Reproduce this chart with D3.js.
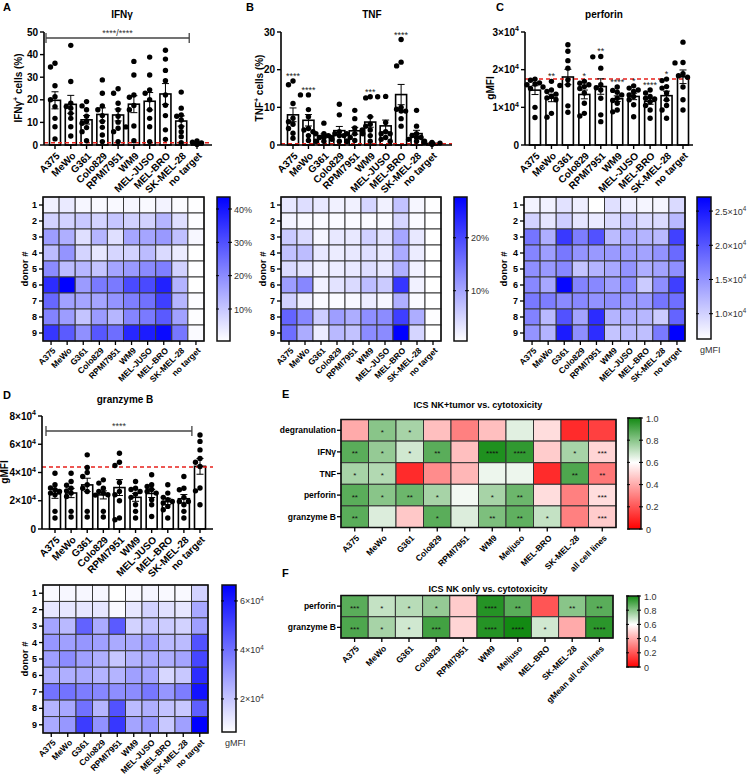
<!DOCTYPE html>
<html><head><meta charset="utf-8">
<script src="https://cdn.jsdelivr.net/npm/d3@7"></script>
<style>body{margin:0;background:#fff} text{font-family:'Liberation Sans',Arial,Helvetica,sans-serif}</style>
</head><body>
<svg id="c" width="748" height="775"></svg>
<script>
// ---------------- DATA ----------------
const cellLines = ["A375","MeWo","G361","Colo829","RPMI7951","WM9","MEL-JUSO","MEL-BRO","SK-MEL-28","no target"];
const donors = ["1","2","3","4","5","6","7","8","9"];

// values per cell line, donors 1..9
const ifngValues = [
  [2.7, 8.1, 17, 11.8, 20, 36.2, 26.2, 21.4, 34.5],
  [4, 8.1, 14, 18.5, 11.8, 44.1, 16.3, 17, 28.1],
  [1.9, 9.6, 5.9, 7.7, 12.7, 17.3, 15.6, 10.4, 19.2],
  [1.5, 7.8, 13, 4.4, 10.4, 22.9, 15.6, 17.3, 28.8],
  [1.5, 10.1, 5.9, 7.4, 15.6, 22.9, 18.5, 12.7, 24.9],
  [1.9, 8.4, 15.6, 8.0, 17.5, 31, 22.1, 21.1, 37],
  [1.5, 8.1, 15.6, 11.8, 20, 31, 24.4, 22.9, 38.9],
  [2.5, 13, 17.6, 6.7, 22.1, 38, 33, 28.4, 41.9],
  [1, 5.9, 11.1, 3.7, 8.1, 13.3, 12.7, 16.3, 23.4],
  [0.5, 0.8, 1.8, 0.4, 0.6, 0.3, 0.9, 0.7, 1.2]
];
const tnfValues = [
  [3.1, 1.8, 6.2, 7.1, 4.4, 11, 5.5, 17, 16],
  [4, 1.2, 4.4, 7.5, 3.5, 13.3, 2.5, 13.3, 9.4],
  [3, 1, 1.5, 3, 2, 2, 1, 5.8, 2.5],
  [2, 1, 3, 2.5, 2.5, 3.5, 1, 10.8, 8],
  [2, 1, 3, 3, 3, 4.5, 1.2, 9.2, 7],
  [5, 1, 5.5, 4, 4, 7.5, 2.5, 12.5, 12.8],
  [2, 1, 3.5, 3, 3, 6, 1.5, 12.8, 12.9],
  [7, 5, 10, 9.5, 9, 22, 9, 21, 28],
  [1.5, 1, 3, 2.5, 2, 2, 1, 9.2, 5],
  [0.6, 0.4, 0.5, 0.5, 0.3, 0.3, 0.2, 0.7, 0.4]
];
const perforinValues = [
  [7300, 10000, 17500, 16200, 15400, 16000, 17200, 16500, 15000],
  [7400, 8400, 12900, 14200, 14600, 13500, 16900, 12000, 12500],
  [8700, 10400, 22400, 17300, 16000, 26600, 15800, 20400, 24900],
  [7700, 8400, 16900, 15000, 11100, 16400, 16000, 13800, 15500],
  [6200, 8000, 20400, 14600, 12400, 16000, 15200, 23500, 23400],
  [8800, 9300, 11800, 14500, 13300, 14000, 15400, 12400, 11100],
  [7500, 10700, 13300, 14200, 15100, 15700, 14600, 12900, 12000],
  [7100, 9300, 12400, 13800, 12900, 10500, 14600, 12200, 11500],
  [7100, 9300, 12000, 15100, 13800, 15500, 17500, 10500, 17100],
  [9300, 12000, 21800, 18400, 15400, 21900, 18000, 18900, 27300]
];
const granzymeValues = [
  [7800, 12500, 27800, 31300, 29000, 25400, 39500, 24200, 26600],
  [8500, 12500, 23000, 28900, 33600, 25400, 39500, 27000, 31000],
  [8500, 12500, 43500, 31300, 28900, 26600, 37200, 40000, 52500],
  [8500, 12500, 26600, 28900, 25400, 24200, 34800, 24000, 32500],
  [6500, 7800, 45000, 26600, 20000, 24200, 33000, 47300, 53600],
  [7800, 12500, 17200, 26600, 24700, 28900, 33600, 22400, 28000],
  [8900, 17200, 20700, 30100, 26600, 28000, 38400, 25400, 31300],
  [7800, 13600, 18400, 22400, 25400, 16000, 31300, 20700, 19500],
  [7800, 12500, 17200, 22400, 27800, 19500, 37200, 19500, 28900],
  [17200, 27000, 29000, 47300, 50000, 56000, 62000, 44200, 66500]
];
const ifngStars = ["","","","","","","","","",""];
const tnfStars = ["****","****","","","","***","","****","",""];
const perforinStars = ["","**","","*","**","****","*","****","*",""];
const granzymeStars = ["","","","","","","","","",""];
const ifngRef = 1.0, tnfRef = 0.3, perforinRef = 17500, granzymeRef = 43900;
const ifngBracket = "****/****", granzymeBracket = "****";

const ifngTicks = [0,10,20,30,40,50];
const tnfTicks = [0,10,20,30];
const perforinTicks = [0,10000,20000,30000];
const granzymeTicks = [0,20000,40000,60000,80000];

const ifngColorDomain = [0.4, 43.6], ifngColorTicks = [10,20,30,40];
const tnfColorDomain = [0.5, 27.7], tnfColorTicks = [10,20];
const perforinColorDomain = [6300, 27060], perforinColorTicks = [10000,15000,20000,25000];
const granzymeColorDomain = [6500, 66500], granzymeColorTicks = [20000,40000,60000];

const corrColsE = ["A375","MeWo","G361","Colo829","RPMI7951","WM9","Meljuso","MEL-BRO","SK-MEL-28","all cell lines"];
const corrRowsE = ["degranulation","IFNγ","TNF","perforin","granzyme B"];
const corrE = [
  [0.40, 0.80, 0.75, 0.45, 0.30, 0.45, 0.65, 0.52, 0.10, 0.15],
  [0.88, 0.78, 0.68, 0.88, 0.45, 0.98, 0.95, 0.48, 0.75, 0.50],
  [0.75, 0.73, 0.10, 0.33, 0.43, 0.63, 0.63, 0.10, 0.90, 0.28],
  [0.88, 0.80, 0.85, 0.75, 0.62, 0.75, 0.85, 0.52, 0.30, 0.52],
  [0.88, 0.66, 0.47, 0.88, 0.66, 0.82, 0.87, 0.70, 0.30, 0.48]
];
const starsE = [
  ["","*","*","","","","","","",""],
  ["**","*","*","**","","****","****","","*","***"],
  ["*","*","","","","","","","**","**"],
  ["**","*","**","*","","*","**","","","***"],
  ["**","","","*","","**","**","*","","***"]
];
const corrColsF = ["A375","MeWo","G361","Colo829","RPMI7951","WM9","Meljuso","MEL-BRO","SK-MEL-28","gMean all cell lines"];
const corrRowsF = ["perforin","granzyme B"];
const corrF = [
  [0.88, 0.70, 0.72, 0.78, 0.48, 0.97, 0.88, 0.20, 0.80, 0.88],
  [0.90, 0.75, 0.68, 0.92, 0.50, 0.97, 1.00, 0.68, 0.40, 0.96]
];
const starsF = [
  ["***","*","*","*","","****","**","","**","**"],
  ["***","*","*","***","","****","****","*","","****"]
];
const corrTicks = [0,0.2,0.4,0.6,0.8,1.0];

// ---------------- HELPERS ----------------
const svg = d3.select("#c");
svg.append("rect").attr("width",748).attr("height",775).attr("fill","#fff");
const defs = svg.append("defs");

function rich(textSel, parts, fs) {
  let prevSup = false;
  parts.forEach(p => {
    const isSup = typeof p !== "string";
    const ts = textSel.append("tspan").text(isSup ? p.sup : p);
    if (isSup) { ts.attr("font-size", fs*0.7).attr("dy", -fs*0.42); }
    else if (prevSup) { ts.attr("dy", fs*0.42); }
    prevSup = isSup;
  });
  return textSel;
}
function sciParts(v, dec) {
  if (v === 0) return ["0"];
  const e = Math.floor(Math.log10(v) + 1e-9);
  const m = v / Math.pow(10, e);
  return [m.toFixed(dec) + "×10", {sup: String(e)}];
}
function letter(x, y, t) {
  svg.append("text").attr("x",x).attr("y",y).attr("font-size",11).attr("font-weight","bold").text(t);
}

function barChart(cfg) {
  const g = svg.append("g");
  const x = d3.scalePoint().domain(cellLines).range([cfg.xFirst, cfg.xLast]);
  const y = d3.scaleLinear().domain([0, cfg.yMax]).range([cfg.yBase, cfg.yTop]);
  const bw = 11, fs = 10;
  g.append("text").attr("x",cfg.titleX).attr("y",cfg.titleY).attr("text-anchor","middle")
    .attr("font-size",10).attr("font-weight","bold").text(cfg.title);
  rich(g.append("text").attr("transform",`translate(${cfg.ylabelX},${cfg.ylabelY}) rotate(-90)`)
    .attr("text-anchor","middle").attr("font-size",fs).attr("font-weight","bold"), cfg.ylabel, fs);
  cfg.data.forEach((vals,i) => {
    const m = d3.mean(vals);
    g.append("rect").attr("x", x(cellLines[i]) - bw/2).attr("y", y(m)).attr("width", bw)
      .attr("height", y(0) - y(m)).attr("fill","#fff").attr("stroke","#000").attr("stroke-width",1.6);
  });
  g.append("line").attr("x1",cfg.axisX).attr("x2",cfg.axisEnd).attr("y1",y(cfg.ref)).attr("y2",y(cfg.ref))
    .attr("stroke","#e8211b").attr("stroke-width",1.5).attr("stroke-dasharray","4,3");
  cfg.data.forEach((vals,i) => {
    const m = d3.mean(vals), sem = d3.deviation(vals)/Math.sqrt(vals.length);
    const cx = x(cellLines[i]);
    g.append("line").attr("x1",cx).attr("x2",cx).attr("y1",y(m-sem)).attr("y2",y(m+sem)).attr("stroke","#000").attr("stroke-width",1);
    [m-sem, m+sem].forEach(v => g.append("line").attr("x1",cx-3.5).attr("x2",cx+3.5).attr("y1",y(v)).attr("y2",y(v)).attr("stroke","#000").attr("stroke-width",1));
  });
  cfg.data.forEach((vals,i) => {
    const cx = x(cellLines[i]);
    const placed = [];
    const sorted = vals.map((v,k)=>({v,k})).sort((a,b)=>b.v-a.v);
    sorted.forEach(d => {
      const py = y(d.v);
      const cands = [0,-4.5,4.5,-8,8,-2.5,2.5];
      let off = cands.find(o => placed.every(p => Math.hypot(p.x-o, p.y-py) >= 4.6));
      if (off === undefined) off = 0;
      placed.push({x:off, y:py});
      g.append("circle").attr("cx", cx+off).attr("cy", py).attr("r",2.7).attr("fill","#000");
    });
    if (cfg.stars[i]) {
      const top = Math.max(d3.max(vals), d3.mean(vals) + d3.deviation(vals)/3);
      g.append("text").attr("x",cx).attr("y",y(top)-2).attr("text-anchor","middle")
        .attr("font-size",9).attr("fill","#222").text(cfg.stars[i]);
    }
  });
  g.append("line").attr("x1",cfg.axisX).attr("x2",cfg.axisX).attr("y1",y(0)).attr("y2",y(cfg.yMax)).attr("stroke","#000").attr("stroke-width",1.6);
  g.append("line").attr("x1",cfg.axisX).attr("x2",cfg.axisEnd).attr("y1",y(0)).attr("y2",y(0)).attr("stroke","#000").attr("stroke-width",1.6);
  cfg.ticks.forEach(t => {
    g.append("line").attr("x1",cfg.axisX-4).attr("x2",cfg.axisX).attr("y1",y(t)).attr("y2",y(t)).attr("stroke","#000").attr("stroke-width",1.4);
    rich(g.append("text").attr("x",cfg.axisX-6).attr("y",y(t)+3.5).attr("text-anchor","end")
      .attr("font-size",fs).attr("font-weight","bold"), cfg.fmt(t), fs);
  });
  cellLines.forEach(c => {
    g.append("line").attr("x1",x(c)).attr("x2",x(c)).attr("y1",y(0)).attr("y2",y(0)+4).attr("stroke","#000").attr("stroke-width",1.4);
    g.append("text").attr("transform",`translate(${x(c)+3},${y(0)+9}) rotate(-45)`).attr("text-anchor","end")
      .attr("dy","0.35em").attr("font-size",fs).attr("font-weight","bold").text(c);
  });
  if (cfg.bracket) {
    const bx1 = x(cellLines[0]) - 9, bx2 = x(cellLines[8]) + 8, by = cfg.bracketY;
    g.append("line").attr("x1",bx1).attr("x2",bx2).attr("y1",by).attr("y2",by).attr("stroke","#444").attr("stroke-width",1.3);
    [bx1,bx2].forEach(bx => g.append("line").attr("x1",bx).attr("x2",bx).attr("y1",by-5).attr("y2",by+5).attr("stroke","#444").attr("stroke-width",1.3));
    g.append("text").attr("x",(bx1+bx2)/2).attr("y",by-2).attr("text-anchor","middle").attr("font-size",9).attr("fill","#333").text(cfg.bracket);
  }
}

function heatmap(cfg) {
  const g = svg.append("g");
  const x = d3.scaleBand().domain(cellLines).range([cfg.x0, cfg.x1]);
  const y = d3.scaleBand().domain(donors).range([cfg.y0, cfg.y1]);
  const color = d3.scaleLinear().domain(cfg.domain).range(["#ffffff","#0000ff"]).clamp(true);
  cfg.data.forEach((vals,i) => vals.forEach((v,k) => {
    g.append("rect").attr("x",x(cellLines[i])).attr("y",y(donors[k])).attr("width",x.bandwidth()).attr("height",y.bandwidth())
      .attr("fill",color(v)).attr("stroke","#3a3a3a").attr("stroke-width",1);
  }));
  g.append("rect").attr("x",cfg.x0).attr("y",cfg.y0).attr("width",cfg.x1-cfg.x0).attr("height",cfg.y1-cfg.y0)
    .attr("fill","none").attr("stroke","#111").attr("stroke-width",1.5);
  donors.forEach(d => {
    const cy = y(d) + y.bandwidth()/2;
    g.append("line").attr("x1",cfg.x0-4).attr("x2",cfg.x0).attr("y1",cy).attr("y2",cy).attr("stroke","#000").attr("stroke-width",1.3);
    g.append("text").attr("x",cfg.x0-6).attr("y",cy+3).attr("text-anchor","end").attr("font-size",9).attr("font-weight","bold").text(d);
  });
  cellLines.forEach(c => {
    const cx = x(c) + x.bandwidth()/2;
    g.append("line").attr("x1",cx).attr("x2",cx).attr("y1",cfg.y1).attr("y2",cfg.y1+4).attr("stroke","#000").attr("stroke-width",1.3);
    g.append("text").attr("transform",`translate(${cx+3},${cfg.y1+8}) rotate(-45)`).attr("text-anchor","end")
      .attr("dy","0.35em").attr("font-size",8.5).attr("font-weight","bold").text(c);
  });
  g.append("text").attr("transform",`translate(${cfg.labelX},${(cfg.y0+cfg.y1)/2}) rotate(-90)`).attr("text-anchor","middle")
    .attr("font-size",9.5).attr("font-weight","bold").text("donor #");
  const id = "grad" + cfg.id;
  const lg = defs.append("linearGradient").attr("id",id).attr("x1",0).attr("x2",0).attr("y1",1).attr("y2",0);
  lg.append("stop").attr("offset",0).attr("stop-color",color(cfg.domain[0]));
  lg.append("stop").attr("offset",1).attr("stop-color",color(cfg.domain[1]));
  const cy = d3.scaleLinear().domain(cfg.domain).range([cfg.cb.y1, cfg.cb.y0]);
  g.append("rect").attr("x",cfg.cb.x).attr("y",cfg.cb.y0).attr("width",cfg.cb.w).attr("height",cfg.cb.y1-cfg.cb.y0)
    .attr("fill",`url(#${id})`).attr("stroke","#111").attr("stroke-width",1.5);
  cfg.cbTicks.forEach(t => {
    const ty = cy(t);
    g.append("line").attr("x1",cfg.cb.x+cfg.cb.w-2).attr("x2",cfg.cb.x+cfg.cb.w+2).attr("y1",ty).attr("y2",ty).attr("stroke","#000").attr("stroke-width",1);
    g.append("line").attr("x1",cfg.cb.x-1).attr("x2",cfg.cb.x+2).attr("y1",ty).attr("y2",ty).attr("stroke","#000").attr("stroke-width",1);
    rich(g.append("text").attr("x",cfg.cb.x+cfg.cb.w+4).attr("y",ty+3.5).attr("font-size",9).attr("fill","#333"), cfg.cbFmt(t), 9);
  });
  if (cfg.unit) g.append("text").attr("x",cfg.cb.x+cfg.cb.w/2).attr("y",cfg.cb.y1+14).attr("text-anchor","start")
    .attr("dx",-4).attr("font-size",9).attr("fill","#333").text(cfg.unit);
}

const corrColor = d3.scaleLinear().domain([0,0.6,1]).range(["#ff0000","#ffffff","#138a13"]).clamp(true);
function corrMap(cfg) {
  const g = svg.append("g");
  const x = d3.scaleBand().domain(cfg.cols).range([cfg.x0,cfg.x1]);
  const y = d3.scaleBand().domain(cfg.rows).range([cfg.y0,cfg.y1]);
  g.append("text").attr("x",cfg.titleX).attr("y",cfg.titleY).attr("text-anchor","middle").attr("font-size",9).attr("font-weight","bold").text(cfg.title);
  cfg.data.forEach((row,r) => row.forEach((v,c) => {
    g.append("rect").attr("x",x(cfg.cols[c])).attr("y",y(cfg.rows[r])).attr("width",x.bandwidth()).attr("height",y.bandwidth())
      .attr("fill",corrColor(v)).attr("stroke","#333").attr("stroke-width",1);
    if (cfg.stars[r][c]) g.append("text").attr("x",x(cfg.cols[c])+x.bandwidth()/2).attr("y",y(cfg.rows[r])+y.bandwidth()/2+4.5)
      .attr("text-anchor","middle").attr("font-size",8).attr("fill","#111").text(cfg.stars[r][c]);
  }));
  g.append("rect").attr("x",cfg.x0).attr("y",cfg.y0).attr("width",cfg.x1-cfg.x0).attr("height",cfg.y1-cfg.y0)
    .attr("fill","none").attr("stroke","#111").attr("stroke-width",1.5);
  cfg.rows.forEach(rw => {
    const cy = y(rw) + y.bandwidth()/2;
    g.append("line").attr("x1",cfg.x0-4).attr("x2",cfg.x0).attr("y1",cy).attr("y2",cy).attr("stroke","#000").attr("stroke-width",1.3);
    g.append("text").attr("x",cfg.x0-5).attr("y",cy+3).attr("text-anchor","end").attr("font-size",8.5).attr("font-weight","bold").text(rw);
  });
  cfg.cols.forEach(c => {
    const cx = x(c) + x.bandwidth()/2;
    g.append("line").attr("x1",cx).attr("x2",cx).attr("y1",cfg.y1).attr("y2",cfg.y1+4).attr("stroke","#000").attr("stroke-width",1.3);
    g.append("text").attr("transform",`translate(${cx+3},${cfg.y1+9}) rotate(-45)`).attr("text-anchor","end")
      .attr("dy","0.35em").attr("font-size",8.5).attr("font-weight","bold").text(c);
  });
  const id = "cg" + cfg.id;
  const lg = defs.append("linearGradient").attr("id",id).attr("x1",0).attr("x2",0).attr("y1",1).attr("y2",0);
  d3.range(0,1.0001,0.1).forEach(t => lg.append("stop").attr("offset",t).attr("stop-color",corrColor(t)));
  const cy = d3.scaleLinear().domain([0,1]).range([cfg.cb.y1, cfg.cb.y0]);
  g.append("rect").attr("x",cfg.cb.x).attr("y",cfg.cb.y0).attr("width",cfg.cb.w).attr("height",cfg.cb.y1-cfg.cb.y0)
    .attr("fill",`url(#${id})`).attr("stroke","#111").attr("stroke-width",1.5);
  corrTicks.forEach(t => {
    const ty = cy(t);
    g.append("line").attr("x1",cfg.cb.x+cfg.cb.w-2).attr("x2",cfg.cb.x+cfg.cb.w+2).attr("y1",ty).attr("y2",ty).attr("stroke","#000").attr("stroke-width",1);
    g.append("line").attr("x1",cfg.cb.x-1).attr("x2",cfg.cb.x+2).attr("y1",ty).attr("y2",ty).attr("stroke","#000").attr("stroke-width",1);
    g.append("text").attr("x",cfg.cb.x+cfg.cb.w+5).attr("y",ty+3.5).attr("font-size",9).attr("fill","#333").text(t===0?"0":t.toFixed(1));
  });
}

// ---------------- DRAW ----------------
letter(3,11,"A"); letter(246,11,"B"); letter(496,11,"C"); letter(3,399,"D"); letter(282,398,"E"); letter(282,577,"F");
const pctFmt = v => [String(v)];
barChart({data:ifngValues, stars:ifngStars, ref:ifngRef, xFirst:55, xLast:197, axisX:44, axisEnd:212, yBase:145, yTop:32, yMax:50,
  ticks:ifngTicks, fmt:pctFmt, title:"IFNγ", titleX:122, titleY:18, ylabel:["IFNγ",{sup:"+"}," cells (%)"], ylabelX:22, ylabelY:88,
  bracket:ifngBracket, bracketY:38});
barChart({data:tnfValues, stars:tnfStars, ref:tnfRef, xFirst:293, xLast:432, axisX:281, axisEnd:452, yBase:145, yTop:32, yMax:30,
  ticks:tnfTicks, fmt:pctFmt, title:"TNF", titleX:372, titleY:18, ylabel:["TNF",{sup:"+"}," cells (%)"], ylabelX:263, ylabelY:88});
barChart({data:perforinValues, stars:perforinStars, ref:perforinRef, xFirst:535, xLast:683, axisX:525, axisEnd:693, yBase:145, yTop:32, yMax:30000,
  ticks:perforinTicks, fmt:v=>sciParts(v,0), title:"perforin", titleX:604, titleY:18, ylabel:["gMFI"], ylabelX:494, ylabelY:88});
barChart({data:granzymeValues, stars:granzymeStars, ref:granzymeRef, xFirst:55, xLast:200, axisX:42, axisEnd:213, yBase:529, yTop:416, yMax:80000,
  ticks:granzymeTicks, fmt:v=>sciParts(v,0), title:"granzyme B", titleX:125, titleY:403, ylabel:["gMFI"], ylabelX:8, ylabelY:472,
  bracket:granzymeBracket, bracketY:431});

heatmap({id:"A", data:ifngValues, x0:43, x1:204, y0:197, y1:341, domain:ifngColorDomain, labelX:28,
  cb:{x:217,w:13,y0:197,y1:341}, cbTicks:ifngColorTicks, cbFmt:v=>[v+"%"]});
heatmap({id:"B", data:tnfValues, x0:281, x1:441, y0:197, y1:341, domain:tnfColorDomain, labelX:266,
  cb:{x:454,w:13,y0:197,y1:341}, cbTicks:tnfColorTicks, cbFmt:v=>[v+"%"]});
heatmap({id:"C", data:perforinValues, x0:524, x1:685, y0:197, y1:341, domain:perforinColorDomain, labelX:507,
  cb:{x:697,w:14,y0:197,y1:339}, cbTicks:perforinColorTicks, cbFmt:v=>sciParts(v,1), unit:"gMFI"});
heatmap({id:"D", data:granzymeValues, x0:43, x1:208, y0:585, y1:733, domain:granzymeColorDomain, labelX:28,
  cb:{x:222,w:14,y0:585,y1:732}, cbTicks:granzymeColorTicks, cbFmt:v=>sciParts(v,0), unit:"gMFI"});

corrMap({id:"E", cols:corrColsE, rows:corrRowsE, data:corrE, stars:starsE, x0:341, x1:616, y0:419.5, y1:527.5,
  title:"ICS NK+tumor vs. cytotoxicity", titleX:478, titleY:408, cb:{x:628,w:13,y0:418,y1:529}});
corrMap({id:"F", cols:corrColsF, rows:corrRowsF, data:corrF, stars:starsF, x0:341, x1:613, y0:595.5, y1:638,
  title:"ICS NK only vs. cytotoxicity", titleX:488, titleY:592, cb:{x:627,w:12,y0:596,y1:667}});
</script>
</body></html>
